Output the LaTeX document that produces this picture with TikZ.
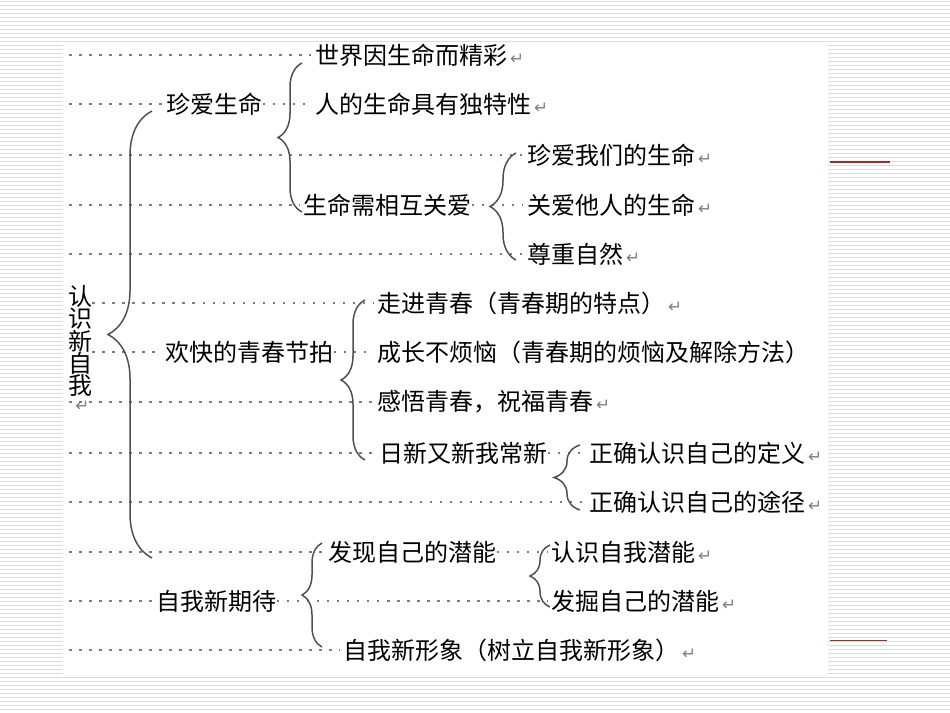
\documentclass[tikz,border=0pt]{standalone}
\usepackage{fontspec}
\usetikzlibrary{positioning,calc,decorations.pathreplacing}
\newfontfamily\cjk{Noto Sans CJK SC}
\newfontfamily\symf{DejaVu Sans}
\definecolor{stripecolor}{RGB}{220,220,220}
\definecolor{dotcolor}{RGB}{125,125,125}
\definecolor{bracecolor}{RGB}{80,80,80}
\definecolor{slidered}{RGB}{170,40,40}
\newcommand{\retmark}{{\color{gray}\symf\fontsize{9.5}{9.5}\selectfont\,↵}}

\begin{document}
\begin{tikzpicture}[
  x=0.02cm, y=-0.02cm,
  item/.style={anchor=west, inner sep=0pt, font=\cjk\fontsize{13.66}{16}\selectfont},
  dots/.style={draw=dotcolor, line width=1.5pt, dash pattern=on 1.5pt off 4.2pt, shorten >=2pt},
  curly/.style={draw=bracecolor, line width=0.85pt, decorate, decoration={brace, amplitude=#1}}
]
\useasboundingbox (0,0) rectangle (950,713);

% ================= SLIDE BACKGROUND =================
\foreach \k in {0,...,178}
  \draw[stripecolor, line width=0.03cm] (0,4*\k+1.5) -- (950,4*\k+1.5);
\fill[white] (63,42) rectangle (828,675);
\draw[slidered, line width=0.8pt] (830,162) -- (890,162);
\draw[slidered, line width=0.5pt] (830,640) -- (887,640);

% ================= ROOT =================
\node[item, anchor=center, align=center, font=\cjk\fontsize{13.66}{12.7}\selectfont]
  (self) at (80,341) {认\\识\\新\\自\\我};
\node[inner sep=0pt] (selfret) at (81,406) {\retmark};

% ================= 珍爱生命 =================
\node[item] (love)    at (166,104) {珍爱生命};
\node[item] (world)   at (315,55)  {世界因生命而精彩\retmark};
\node[item] (unique)  at (315,104) {人的生命具有独特性\retmark};
\node[item] (care)    at (303,205) {生命需相互关爱};
\node[item] (cherish) at (527,155) {珍爱我们的生命\retmark};
\node[item] (others)  at (527,205) {关爱他人的生命\retmark};
\node[item] (nature)  at (527,254) {尊重自然\retmark};

% ================= 欢快的青春节拍 =================
\node[item] (youth) at (165,352) {欢快的青春节拍};
\node[item] (enter) at (377,303) {走进青春（青春期的特点）\retmark};
\node[item] (grow)  at (377,352) {成长不烦恼（青春期的烦恼及解除方法）};
\node[item] (feel)  at (377,402) {感悟青春，祝福青春\retmark};
\node[item] (renew) at (379,453) {日新又新我常新};
\node[item] (defn)  at (589,453) {正确认识自己的定义\retmark};
\node[item] (route) at (589,502) {正确认识自己的途径\retmark};

% ================= 自我新期待 =================
\node[item] (expect) at (156,601) {自我新期待};
\node[item] (pot)    at (328,552) {发现自己的潜能};
\node[item] (know)   at (551,552) {认识自我潜能\retmark};
\node[item] (dig)    at (551,601) {发掘自己的潜能\retmark};
\node[item] (image)  at (343,650) {自我新形象（树立自我新形象）\retmark};

% ================= DOTTED LEADERS =================
\draw[dots] (69,55)  -- (world.west);
\draw[dots] (69,104) -- (love.west);
\draw[dots] (love.east) -- (unique.west);
\draw[dots] (69,155) -- (cherish.west);
\draw[dots] (69,205) -- (care.west);
\draw[dots] (care.east) -- (others.west);
\draw[dots] (69,254) -- (nature.west);
\draw[dots] (self.east |- enter.west) -- (enter.west);
\draw[dots] (self.east |- youth.west) -- (youth.west);
\draw[dots] (youth.east) -- (grow.west);
\draw[dots] (69,402) -- (feel.west);
\draw[dots] (69,453) -- (renew.west);
\draw[dots] (renew.east) -- (defn.west);
\draw[dots] (69,502) -- (route.west);
\draw[dots] (69,552) -- (pot.west);
\draw[dots] (pot.east) -- (know.west);
\draw[dots] (69,601) -- (expect.west);
\draw[dots] (expect.east) -- (dig.west);
\draw[dots] (69,650) -- (image.west);

% ================= BRACES =================
\draw[curly=0.88cm] (152,558) -- (152,111);
\draw[curly=0.48cm] (302,212) -- (302,63);
\draw[curly=0.52cm] (516,260) -- (516,153);
\draw[curly=0.48cm] (365,460) -- (365,300);
\draw[curly=0.52cm] (580,510) -- (580,445);
\draw[curly=0.4cm]  (322,647) -- (322,543);
\draw[curly=0.4cm]  (550,607) -- (550,545);

\end{tikzpicture}
\end{document}
